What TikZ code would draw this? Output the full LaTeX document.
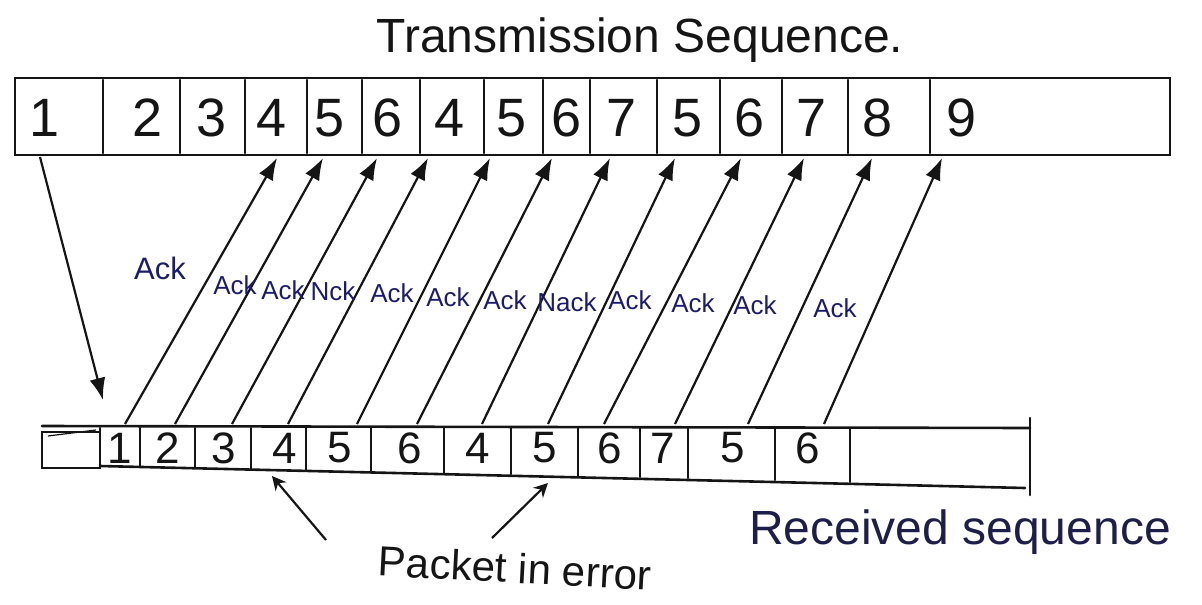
\documentclass[tikz,border=0pt]{standalone}
\usepackage{fontspec}
\setmainfont{Liberation Sans}
\usetikzlibrary{arrows.meta}
\definecolor{ink}{HTML}{151515}
\definecolor{inkblue}{HTML}{1C1C6E}
\definecolor{inknavy}{HTML}{1E1E4A}
\begin{document}
\begin{tikzpicture}[x=1pt,y=-1pt,
  bar/.style={draw=ink,line width=2.6pt,line cap=round},
  divider/.style={draw=ink,line width=2.2pt,line cap=round},
  cellnum/.style={font=\fontsize{54}{54}\selectfont,text=ink,inner sep=0pt},
  rcvnum/.style={font=\fontsize{44}{44}\selectfont,text=ink,inner sep=0pt},
  ackline/.style={draw=ink,line width=2.2pt,-{Latex[length=22pt,width=16pt]}},
  acklabel/.style={font=\fontsize{26}{26}\selectfont,text=inkblue,inner sep=0pt},
  pointer/.style={draw=ink,line width=2.2pt,-{Stealth[length=14pt,width=14pt]}},
  caption/.style={font=\fontsize{46}{46}\selectfont,inner sep=0pt}
]
\useasboundingbox (0,0) rectangle (1202,605);

% ---- transmitted frames ----
\node[caption,text=ink,font=\fontsize{48}{48}\selectfont] (title) at (640,40) {Transmission Sequence.};
\draw[bar] (15,78) rectangle (1170,155);
\foreach \x in {103,180,245,307,362,420,484,543,590,657,720,782,848,930}
  \draw[divider] (\x,80) -- (\x,153);
\foreach \x/\n [count=\i] in {45/1,148/2,212/3,272/4,330/5,388/6,450/4,512/5,567/6,622/7,688/5,750/6,812/7,878/8,962/9}
  \node[cellnum] (s\i) at (\x,118) {\n};

% ---- received frames ----
\draw[bar] (42,426) -- (1030,428);
\draw[bar] (100,466) -- (1025,488);
\draw[bar] (1030,418) -- (1030,495);
\draw[draw=ink,line width=1.8pt] (42,432) rectangle (100,468);
\draw[draw=ink,line width=1.2pt] (48,436) -- (96,430);
\foreach \x/\b in {100/466,140/467,195/468,251/469,306/470,371/471,444/473,511/474,578/476,640/477,688/478,775/480,850/482}
  \draw[divider] (\x,428) -- (\x,\b);
\foreach \x/\n [count=\i] in {120/1,168/2,224/3,285/4,340/5,410/6,478/4,545/5,610/6,663/7,733/5,808/6}
  \node[rcvnum] (r\i) at (\x,448) {\n};

% ---- first frame going down ----
\coordinate (d0) at (40,157);
\coordinate (d1) at (103,400);
\draw[ackline] (d0) -- (d1);

% ---- acknowledgements going back ----
\foreach \bx/\tx [count=\i] in {125/277,175/323,232/377,288/428,357/490,417/552,482/610,548/675,604/741,675/804,748/872,824/942}{
  \coordinate (a\i) at (\bx,424);
  \coordinate (b\i) at (\tx,158);
  \draw[ackline] (a\i) -- (b\i);
}

\node[acklabel,font=\fontsize{31}{31}\selectfont] (k1) at (160,268) {Ack};
\foreach \x/\y/\t [count=\i from 2] in {235/285/Ack,283/290/Ack,333/291/Nck,392/293/Ack,448/297/Ack,505/300/Ack,567/302/Nack,630/300/Ack,693/303/Ack,755/305/Ack,835/308/Ack}
  \node[acklabel] (k\i) at (\x,\y) {\t};

% ---- captions below ----
\node[caption,text=inknavy,font=\fontsize{48}{48}\selectfont] (rcv) at (960,532) {Received sequence};
\node[caption,text=ink,font=\fontsize{42}{42}\selectfont,rotate=-3] (err) at (515,568) {Packet in error};
\coordinate (e1) at (326,540);
\coordinate (e2) at (492,538);
\coordinate (f1) at (272,476);
\coordinate (f2) at (548,483);
\draw[pointer] (e1) -- (f1);
\draw[pointer] (e2) -- (f2);
\end{tikzpicture}
\end{document}
